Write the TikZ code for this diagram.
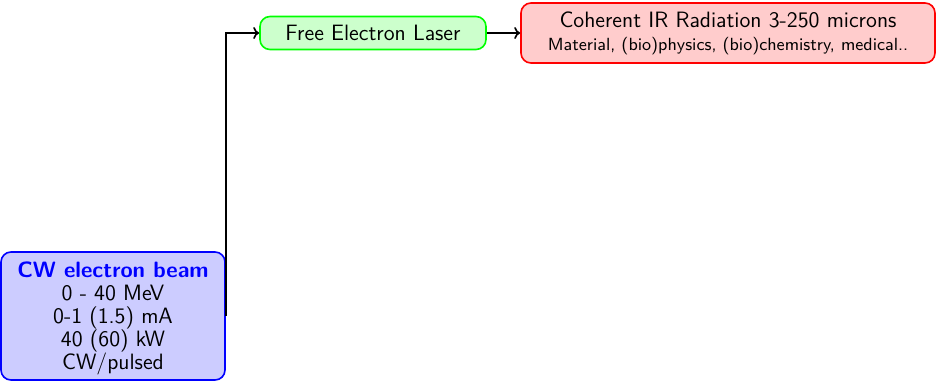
\documentclass[tikz,border=0pt]{standalone}
\usetikzlibrary{arrows.meta}
\begin{document}
\begin{tikzpicture}[x=0.5pt,y=-0.5pt,
  font=\sffamily\fontsize{11.1}{11.5}\selectfont,
  box/.style={draw, thick, rounded corners=5pt, align=center, inner sep=2pt},
  link/.style={draw, thick, -{To[length=3pt,width=6pt]}}]
  \useasboundingbox (0,0) rectangle (937,381);
  % electron beam source
  \node[box, draw=blue, fill=blue!20, minimum width=112pt, minimum height=64pt]
    (beam) at (113,316) {};
  \node[align=center, inner sep=0pt] (beamtext) at (113,318)
    {\textbf{\color{blue}CW electron beam}\\0 - 40 MeV\\0-1 (1.5) mA\\40 (60) kW\\CW/pulsed};
  % free electron laser
  \node[box, draw=green, fill=green!20, minimum width=113pt, minimum height=16.5pt]
    (fel) at (373,33) {Free Electron Laser};
  % output radiation
  \node[box, draw=red, fill=red!20, minimum width=207pt, minimum height=30pt]
    (ir) at (728,33)
    {Coherent IR Radiation 3-250 microns\\{\fontsize{8.8}{10}\selectfont Material, (bio)physics, (bio)chemistry, medical..}};
  \draw[link] (beam.east) |- (fel.west);
  \draw[link] (fel.east) -- (ir.west);
\end{tikzpicture}
\end{document}
